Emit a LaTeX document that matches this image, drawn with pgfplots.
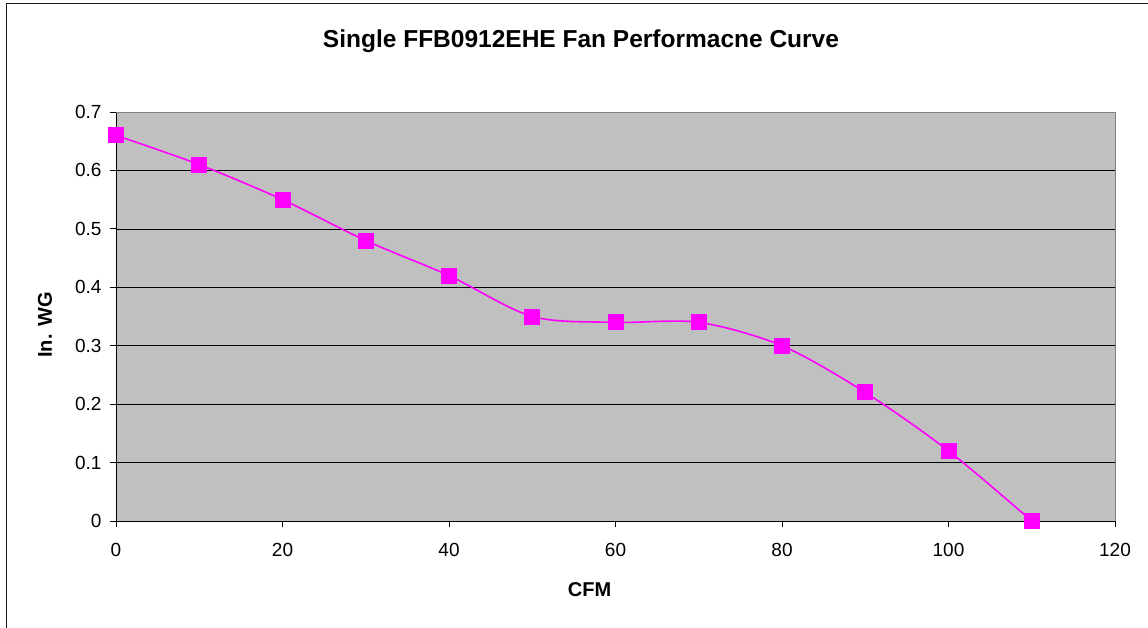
\documentclass[border=0pt]{standalone}
\usepackage{pgfplots}
\pgfplotsset{compat=1.18}
\usepackage{fontspec}
\setmainfont{Liberation Sans}
\definecolor{plotbg}{HTML}{C0C0C0}
\definecolor{plotborder}{HTML}{808080}
\definecolor{curve}{HTML}{FF00FF}
\begin{document}
\begin{tikzpicture}[x=1pt,y=1pt]
\useasboundingbox (0,0) rectangle (1148,627);
\draw[black!90, line width=1.6pt] (6.5,-5) -- (6.5,623.3) -- (1155,623.3);
\begin{axis}[
  at={(116pt,106pt)}, anchor=south west,
  scale only axis, width=999pt, height=409pt,
  xmin=0, xmax=120, ymin=0, ymax=0.7,
  xtick={0,20,...,120},
  ytick={0,0.1,...,0.7},
  axis lines=left,
  axis line style={-, black, line width=0.9pt},
  axis background/.style={fill=plotbg},
  tick align=outside,
  major tick length=6pt,
  tick style={black, line width=0.8pt},
  ymajorgrids,
  major grid style={black, line width=0.7pt},
  /pgf/number format/assume math mode=true,
  /pgf/number format/fixed,
  ticklabel style={font=\fontsize{19}{21}\selectfont},
  yticklabel style={xshift=-5pt},
  xticklabel style={yshift=-13pt},
  after end axis/.code={
    \draw[plotborder, line width=1pt] (rel axis cs:0,1) -- (rel axis cs:1,1) -- (rel axis cs:1,0);
  },
]
\addplot[curve, line width=1.6pt, smooth, mark=square*, mark size=7.5pt,
  mark options={curve, solid, line width=0pt}] coordinates {
(0,0.66) (10,0.61) (20,0.55) (30,0.48) (40,0.42) (50,0.35)
(60,0.34) (70,0.34) (80,0.30) (90,0.22) (100,0.12) (110,0)
};
\end{axis}
\node[font=\fontsize{24.5}{28}\selectfont\bfseries] at (581,586) {Single FFB0912EHE Fan Performacne Curve};
\node[font=\fontsize{20}{24}\selectfont\bfseries] at (589.5,37) {CFM};
\node[font=\fontsize{20}{24}\selectfont\bfseries, rotate=90] at (45,302) {In. WG};
\end{tikzpicture}
\end{document}
